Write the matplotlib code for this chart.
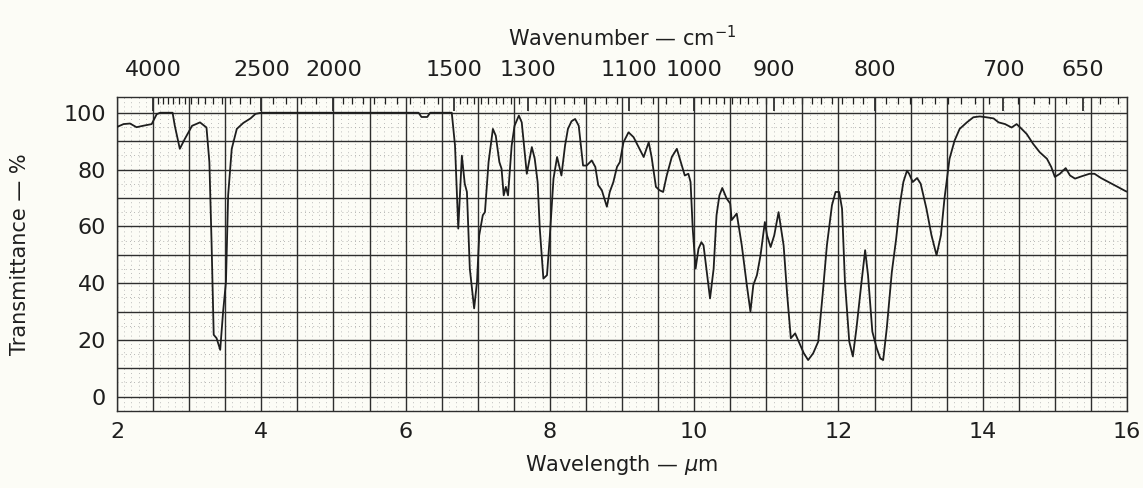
import numpy as np
import matplotlib
matplotlib.use("Agg")
import matplotlib.pyplot as plt
from matplotlib.ticker import MultipleLocator, FixedLocator, NullFormatter

# spectrum: wavelength (um) and transmittance (%)
wavelength = [
    2.00, 2.09, 2.18, 2.23, 2.27, 2.36, 2.48, 2.55, 2.60, 2.77, 2.80, 2.87, 2.94,
    3.04, 3.15, 3.24, 3.28, 3.31, 3.34, 3.38, 3.43, 3.47, 3.51, 3.54, 3.59, 3.66,
    3.75, 3.85, 3.92, 4.00, 6.18, 6.22, 6.30, 6.34, 6.64, 6.685, 6.73, 6.78, 6.82,
    6.85, 6.89, 6.95, 6.99, 7.02, 7.07, 7.10, 7.15, 7.21, 7.25, 7.30, 7.33, 7.36,
    7.39, 7.42, 7.47, 7.51, 7.57, 7.61, 7.68, 7.75, 7.79, 7.83, 7.86, 7.91, 7.96,
    8.00, 8.05, 8.10, 8.16, 8.21, 8.25, 8.30, 8.35, 8.40, 8.46, 8.51, 8.58, 8.63,
    8.67, 8.72, 8.79, 8.83, 8.88, 8.93, 8.97, 9.02, 9.09, 9.16, 9.23, 9.30, 9.37,
    9.41, 9.47, 9.52, 9.57, 9.62, 9.69, 9.76, 9.83, 9.87, 9.92, 9.95, 9.98, 10.02,
    10.06, 10.10, 10.13, 10.17, 10.22, 10.27, 10.31, 10.35, 10.39, 10.45, 10.50,
    10.52, 10.59, 10.66, 10.73, 10.78, 10.82, 10.87, 10.92, 10.98, 11.01, 11.06,
    11.11, 11.17, 11.24, 11.29, 11.34, 11.40, 11.47, 11.52, 11.58, 11.65, 11.72,
    11.78, 11.84, 11.91, 11.96, 12.01, 12.05, 12.09, 12.15, 12.20, 12.25, 12.31,
    12.37, 12.41, 12.47, 12.53, 12.58, 12.62, 12.67, 12.74, 12.80, 12.85, 12.90,
    12.95, 12.98, 13.03, 13.09, 13.14, 13.22, 13.29, 13.36, 13.42, 13.47, 13.54,
    13.61, 13.68, 13.78, 13.87, 13.96, 14.05, 14.15, 14.22, 14.31, 14.40, 14.47,
    14.54, 14.61, 14.70, 14.79, 14.89, 14.95, 15.00, 15.07, 15.15, 15.21, 15.28,
    15.37, 15.48, 15.55, 15.64, 15.76, 15.87, 15.98, 16.00,
]
transmittance = [
    95.0, 96.0, 96.2, 95.5, 94.9, 95.4, 96.0, 99.5, 100.0, 100.0, 95.5, 87.3, 90.8,
    95.4, 96.6, 94.8, 82.6, 54.5, 21.8, 20.6, 16.5, 29.9, 40.5, 70.9, 87.3, 94.3,
    96.4, 98.0, 99.6, 100.0, 100.0, 98.5, 98.5, 100.0, 100.0, 88.4, 59.2, 84.9, 75.0,
    72.1, 45.1, 31.1, 40.5, 56.8, 63.9, 65.0, 82.6, 94.3, 91.9, 82.6, 80.3, 70.9,
    73.9, 70.9, 88.4, 95.4, 99.0, 96.6, 78.5, 87.9, 83.8, 75.6, 59.2, 41.6, 42.8,
    56.8, 76.8, 84.4, 77.9, 88.4, 94.3, 97.0, 97.8, 95.4, 81.4, 81.4, 83.2, 80.9,
    74.5, 72.7, 66.9, 72.1, 75.6, 80.9, 82.6, 89.6, 93.1, 91.4, 87.9, 84.4, 89.6,
    84.4, 73.9, 72.7, 72.1, 77.9, 84.4, 87.3, 81.4, 77.9, 78.5, 75.6, 59.2, 45.1,
    52.1, 54.4, 53.3, 45.1, 34.6, 45.1, 63.9, 70.9, 73.5, 69.8, 68.0,
    62.2, 64.5, 53.3, 39.3, 30.0, 39.3, 42.8, 49.8, 61.5, 56.8, 52.7,
    56.8, 65.0, 53.3, 35.7, 20.6, 22.3, 18.2, 15.3, 12.9, 15.3, 19.4,
    35.7, 53.3, 67.4, 72.1, 72.1, 66.2, 40.5, 19.4, 14.2, 24.1, 38.1,
    51.6, 42.8, 22.9, 17.1, 13.5, 12.9, 24.1, 43.9, 55.6, 67.4, 75.6,
    79.6, 78.5, 75.6, 77.0, 75.0, 66.2, 56.8, 49.8, 56.8, 69.8, 83.8,
    90.2, 94.3, 96.6, 98.4, 98.7, 98.4, 98.0, 96.6, 96.0, 94.8, 96.0,
    94.3, 92.5, 89.0, 86.1, 83.8, 80.9, 77.4, 78.5, 80.5, 77.9, 76.8,
    77.6, 78.5, 78.5, 77.0, 75.4, 73.9, 72.4, 72.2,
]

wn_labels = [4000, 2500, 2000, 1500, 1300, 1100, 1000, 900, 800, 700, 650]
x_ticks = [2, 4, 6, 8, 10, 12, 14, 16]
y_ticks = [0, 20, 40, 60, 80, 100]

plt.rcParams["font.family"] = ["DejaVu Sans"]
ink = "#1e1e1e"
paper = "#fcfcf6"

fig = plt.figure(figsize=(11.43, 4.88), dpi=100, facecolor=paper)
ax = fig.add_axes([0.1024, 0.158, 0.8836, 0.643], facecolor=paper)

ax.plot(wavelength, transmittance, color=ink, lw=1.3, zorder=3)

ax.set_xlim(2, 16)
ax.set_ylim(-5, 105.5)

ax.set_xticks(x_ticks)
ax.set_yticks(y_ticks)
ax.xaxis.set_minor_locator(MultipleLocator(0.5))
ax.yaxis.set_minor_locator(MultipleLocator(10))
ax.grid(which="minor", color="#2e2e2e", lw=1.0, zorder=1)
ax.grid(which="major", color="#2e2e2e", lw=1.0, zorder=1)

# fine dotted chart-paper lines
for xv in np.arange(2.1, 16, 0.1):
    if abs(xv * 2 - round(xv * 2)) > 1e-6:
        ax.axvline(xv, color="#a8a8a8", lw=0.6, ls=(0, (1, 4)), zorder=0)
for yv in np.arange(-5, 105, 10):
    ax.axhline(yv, color="#a0a0a0", lw=0.6, ls=(0, (1, 4)), zorder=0)

ax.tick_params(which="both", length=0, labelsize=16, colors=ink, pad=8)
for s in ax.spines.values():
    s.set_color("#2e2e2e")
    s.set_linewidth(1.0)

ax.set_xlabel("Wavelength — $\\mu$m", fontsize=15, color=ink, labelpad=8)
ax.set_ylabel("Transmittance — %", fontsize=15, color=ink, labelpad=24)

top = ax.secondary_xaxis("top", functions=(lambda x: 1e4 / x, lambda x: 1e4 / x))
top.set_xticks(wn_labels)
top.set_xticklabels([str(w) for w in wn_labels])
minor_wn = list(range(4000, 2000, -100)) + list(range(2000, 1500, -50)) + \
    list(range(1500, 1000, -20)) + list(range(1000, 620, -10))
top.xaxis.set_minor_locator(FixedLocator(minor_wn))
top.xaxis.set_minor_formatter(NullFormatter())
top.tick_params(which="major", direction="in", length=10, width=1.2,
                labelsize=16, colors=ink, pad=12)
top.tick_params(which="minor", direction="in", length=5, width=0.9, colors=ink)
top.spines["top"].set_visible(False)
top.set_xlabel("Wavenumber — cm$^{-1}$", fontsize=15, color=ink, labelpad=10)

fig.savefig("out.png", dpi=100, facecolor=paper)
